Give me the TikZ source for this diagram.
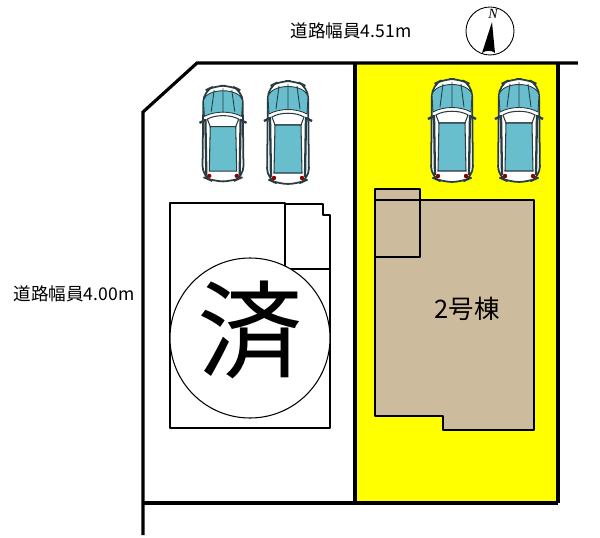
\documentclass[tikz,border=0pt]{standalone}
\usepackage{fontspec}
\setmainfont{Noto Sans CJK JP}
\newfontfamily\compassfont{Liberation Serif}
\usepackage{tikz}
\usetikzlibrary{positioning}
\definecolor{plotyellow}{RGB}{255,255,0}
\definecolor{housetan}{RGB}{205,187,158}
\definecolor{carblue}{RGB}{104,190,205}
\definecolor{cardark}{RGB}{40,60,65}
\tikzset{
	x=0.02cm, y=-0.02cm,
	boundary/.style={line width=1.8pt, black}, % plot lines
	house/.style={line width=1.1pt, black, line join=round}, % building outlines
	label text/.style={font=\fontsize{10pt}{12pt}\selectfont, inner sep=0pt},
	pics/car/.style={code={
		% body
		\draw[cardark, fill=white, line width=1pt, rounded corners=6] (-20,-46) -- (-8,-52) -- (8,-52) -- (20,-46) -- (21,46) -- (10,51) -- (-10,51) -- (-21,46) -- cycle;
		% windscreen
		\fill[carblue] (-20,-36) .. controls (-17,-50) and (17,-50) .. (20,-36) -- (19,-19) .. controls (8,-25) and (-8,-25) .. (-19,-19) -- cycle;
		\draw[cardark, line width=0.5pt] (-20,-36) .. controls (-17,-50) and (17,-50) .. (20,-36) -- (19,-19) .. controls (8,-25) and (-8,-25) .. (-19,-19) -- cycle;
		\draw[cardark, line width=0.5pt] (-9,-47) -- (-12,-24) (0,-49) -- (0,-23) (9,-47) -- (12,-24);
		% roof
		\draw[cardark, line width=0.6pt, fill=white] (-16,-16) .. controls (-8,-21) and (8,-21) .. (16,-16) -- (13,-8) -- (-13,-8) -- cycle;
		\fill[carblue] (-13,-8) -- (13,-8) -- (14,40) -- (-14,40) -- cycle;
		\draw[cardark, line width=0.6pt] (-13,-8) -- (13,-8) -- (14,40) -- (-14,40) -- cycle;
		% sides and mirrors
		\draw[cardark, line width=1.3pt] (-18,-16) -- (-17,44) (18,-16) -- (17,44);
		\draw[cardark, line width=1.3pt] (-18,-15) -- (-24,-12) (18,-15) -- (24,-12);
		% tail lights
		\fill[red!55!black] (-14,45) circle (2.2) (14,45) circle (2.2);
	}},
}
\begin{document}
\begin{tikzpicture}
	\useasboundingbox (0,0) rectangle (600,538);

	% plots
	\fill[plotyellow] (355,63) rectangle (558,503);
	\draw[boundary] (578,63) -- (197,63) -- (143,112) -- (143,535);
	\draw[boundary] (143,503) -- (558,503);
	\draw[boundary] (355,63) -- (355,503);
	\draw[boundary] (558,63) -- (558,503);

	% cars
	\pic[xscale=0.98,yscale=0.93] at (223,134) {car};
	\pic at (288,133) {car};
	\pic at (452,131) {car};
	\pic at (519,131) {car};

	% sold house
	\draw[house] (285,204) -- (323,204) -- (323,215) -- (330,215) -- (330,428) -- (170,428) -- (170,203) -- (285,203) -- (285,269) -- (330,269);
	\draw[line width=0.6pt, fill=white] (250,338) circle (80);
	\node[font=\fontsize{60pt}{60pt}\selectfont, inner sep=0pt] (sold) at (250,330) {済};

	% house no. 2
	\draw[house, fill=housetan] (375,189) rectangle (420,257);
	\draw[house, fill=housetan] (375,200) -- (534,200) -- (534,430) -- (443,430) -- (443,416) -- (375,416) -- cycle;
	\draw[house] (420,200) -- (420,257) -- (375,257);
	\node[font=\fontsize{14.5pt}{16pt}\selectfont, inner sep=0pt] (no2) at (467,309) {2号棟};

	% road labels
	\node[label text] (roadN) at (351,31) {道路幅員4.51m};
	\node[label text] (roadW) at (74,294) {道路幅員4.00m};

	% compass
	\draw[line width=0.5pt] (490,31) circle (24);
	\node[font=\fontsize{8pt}{8pt}\selectfont\compassfont\itshape, inner sep=0pt] (north) at (493,14) {N};
	\fill[black] (492,22) -- (495,53) .. controls (492,50) and (486,50) .. (482,53) -- cycle;
\end{tikzpicture}
\end{document}
